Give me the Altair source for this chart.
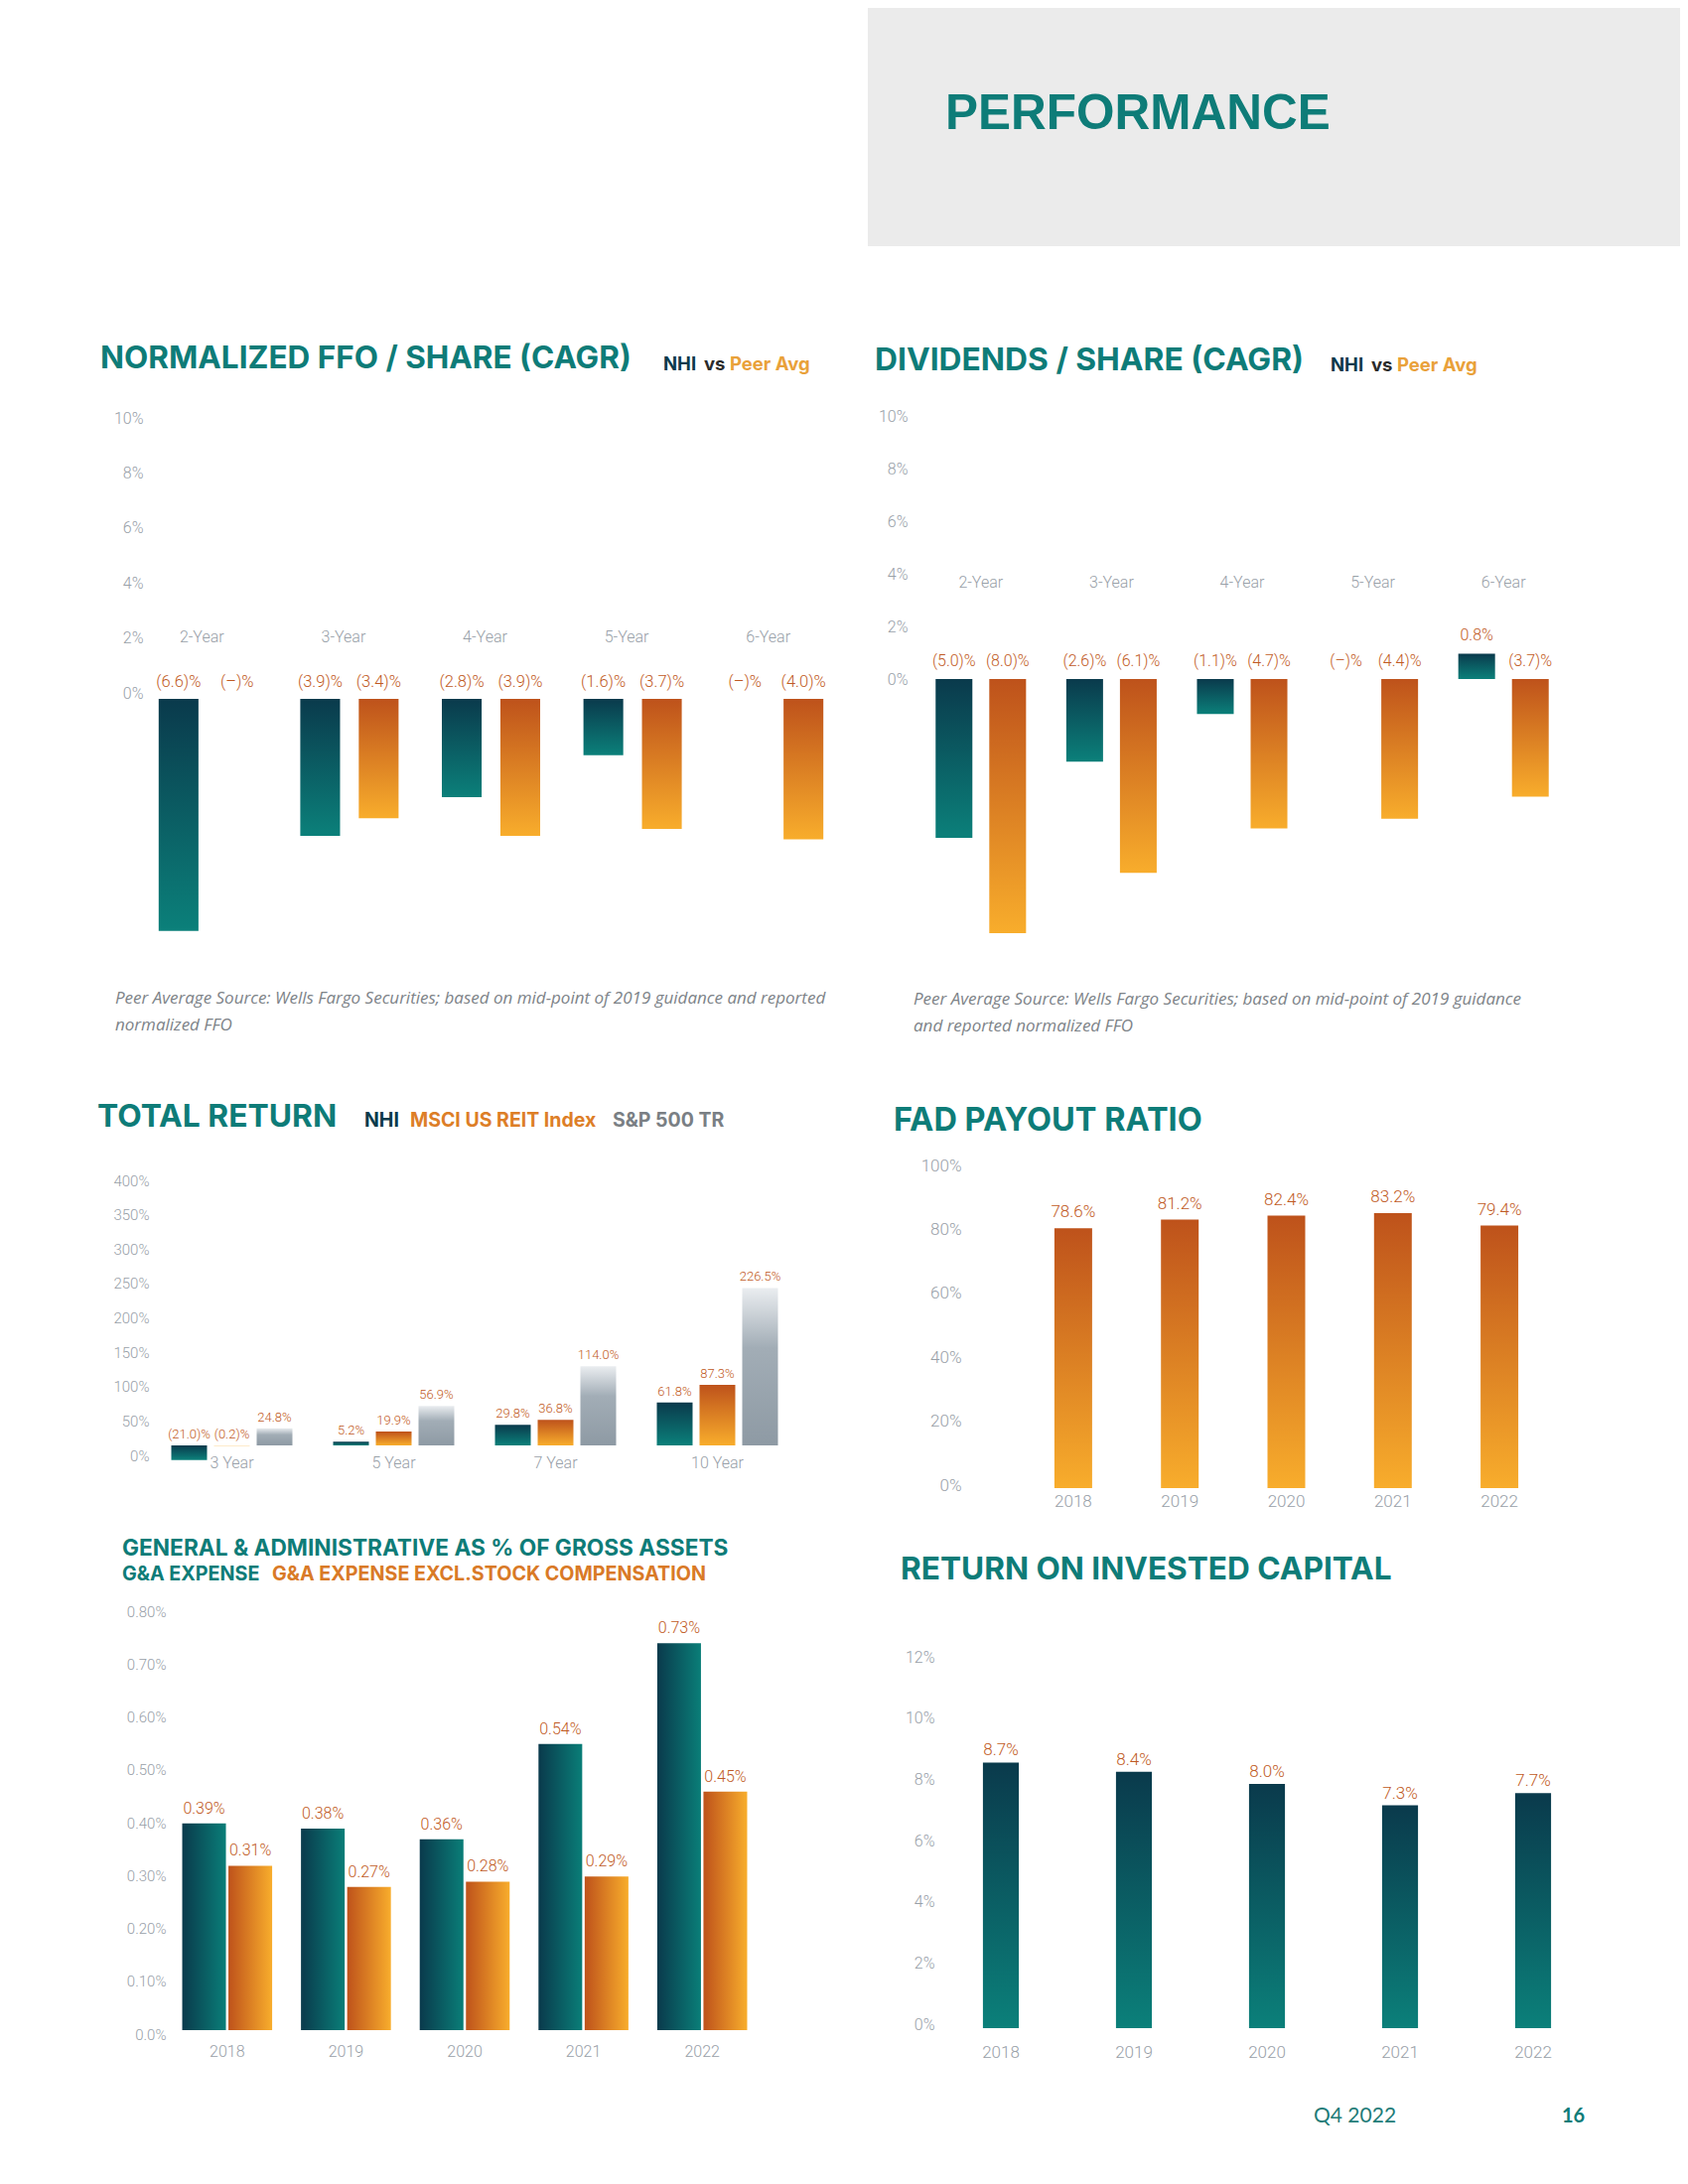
import altair as alt
import pandas as pd

# ---------------- data ----------------
ffo_periods = ["2-Year", "3-Year", "4-Year", "5-Year", "6-Year"]
ffo_nhi = [-6.6, -3.9, -2.8, -1.6, 0.0]
ffo_peer = [0.0, -3.4, -3.9, -3.7, -4.0]

div_periods = ["2-Year", "3-Year", "4-Year", "5-Year", "6-Year"]
div_nhi = [-5.0, -2.6, -1.1, 0.0, 0.8]
div_peer = [-8.0, -6.1, -4.7, -4.4, -3.7]

cagr_ticks = [0, 2, 4, 6, 8, 10]

tr_periods = ["3 Year", "5 Year", "7 Year", "10 Year"]
tr_nhi = [-21.0, 5.2, 29.8, 61.8]
tr_msci = [-0.2, 19.9, 36.8, 87.3]
tr_sp = [24.8, 56.9, 114.0, 226.5]
tr_ticks = [0, 50, 100, 150, 200, 250, 300, 350, 400]

years = ["2018", "2019", "2020", "2021", "2022"]
fad = [78.6, 81.2, 82.4, 83.2, 79.4]
fad_ticks = [0, 20, 40, 60, 80, 100]

ga = [0.39, 0.38, 0.36, 0.54, 0.73]
ga_excl = [0.31, 0.27, 0.28, 0.29, 0.45]
ga_ticks = [0, 0.1, 0.2, 0.3, 0.4, 0.5, 0.6, 0.7, 0.8]

roic = [8.7, 8.4, 8.0, 7.3, 7.7]
roic_ticks = [0, 2, 4, 6, 8, 10, 12]

# ---------------- style ----------------
W, H = 1684, 2175
def px(x): return x - 8
def py(y): return y - 8

TITLE_C = "#0E7C78"
NAVY = "#0A3A4C"
TEALB = "#0B807A"
RUST = "#BE521B"
GOLD = "#F8AD2C"
AXIS_C = "#98A0A8"
LAB_C = "#BF5A24"
TFONT = "Inter"
LFONT = "Roboto"
LW = 300

def vgrad(stops):
    return alt.Gradient(gradient="linear", x1=0, x2=0, y1=0, y2=1,
                        stops=[alt.GradientStop(offset=o, color=c) for o, c in stops])

def hgrad(stops):
    return alt.Gradient(gradient="linear", x1=0, x2=1, y1=0, y2=0,
                        stops=[alt.GradientStop(offset=o, color=c) for o, c in stops])

G_NHI = vgrad([(0, NAVY), (1, TEALB)])
G_PEER = vgrad([(0, RUST), (1, GOLD)])
G_SP = vgrad([(0, "#EAEDF0"), (0.38, "#A2ADB6"), (1, "#8E9AA4")])
H_NHI = hgrad([(0, NAVY), (1, "#0A7E78")])
H_PEER = hgrad([(0, RUST), (1, GOLD)])


def fmt(v, dec=1):
    if v == 0:
        return "(–)%"
    if v < 0:
        return f"({abs(v):.{dec}f})%"
    return f"{v:.{dec}f}%"


def long_df(cats, series, dec=1):
    rows = []
    for name, vals in series:
        for c, v in zip(cats, vals):
            rows.append({"cat": c, "s": name, "v": v, "ly": max(v, 0), "lab": fmt(v, dec)})
    return pd.DataFrame(rows)


def cat_axis(y_center, size=16, shift=0):
    return alt.Axis(orient="top", offset=-py(y_center), labelBaseline="middle",
                    labelPadding=0, labelAngle=0, labelFontSize=size, labelColor=AXIS_C,
                    labelFont=LFONT, labelFontWeight=LW, labelOffset=shift, title=None,
                    domain=False, ticks=False, tickSize=0, grid=False, labelOverlap=False)


def val_axis(right_x, values, expr, size=16):
    return alt.Axis(orient="left", offset=-px(right_x), values=values, labelExpr=expr,
                    labelBaseline="middle", labelAlign="right", labelPadding=0,
                    labelFontSize=size, labelColor=AXIS_C, labelFont=LFONT,
                    labelFontWeight=LW, title=None, domain=False, ticks=False, tickSize=0,
                    grid=False, labelFlush=False, labelOverlap=False)


def grouped(df, cats, order, grads, x_range, p_in, p_out, y_dom, y_rng, cat_y,
            lab_dy, lab_size, cat_size=16, cat_shift=0):
    xs = alt.Scale(type="band", domain=cats, range=x_range, paddingInner=0, paddingOuter=0)
    xo = alt.Scale(type="band", domain=order, paddingInner=p_in, paddingOuter=p_out)
    ys = alt.Scale(domain=y_dom, range=y_rng, nice=False, zero=False)
    layers = []
    for i, (name, g) in enumerate(zip(order, grads)):
        layers.append(
            alt.Chart(df).transform_filter(
                (alt.datum.s == name) & (alt.datum.v != 0)
            ).mark_bar(color=g).encode(
                x=alt.X("cat:N", scale=xs,
                        axis=cat_axis(cat_y, cat_size, cat_shift) if i == 0 else None),
                xOffset=alt.XOffset("s:N", scale=xo),
                y=alt.Y("v:Q", scale=ys, axis=None),
                y2=alt.datum(0),
            )
        )
    layers.append(
        alt.Chart(df).mark_text(baseline="middle", dy=lab_dy, fontSize=lab_size,
                                color=LAB_C, font=LFONT, fontWeight=LW).encode(
            x=alt.X("cat:N", scale=xs, axis=None),
            xOffset=alt.XOffset("s:N", scale=xo),
            y=alt.Y("ly:Q", scale=ys, axis=None),
            text="lab:N",
        )
    )
    return layers


def single(cats, vals, grad, x_range, p_in, p_out, y_dom, y_rng, cat_y, lab_dy,
           lab_size, y_axis=None):
    df = pd.DataFrame({"cat": cats, "v": vals, "lab": [fmt(v) for v in vals]})
    xs = alt.Scale(type="band", domain=cats, range=x_range, paddingInner=p_in, paddingOuter=p_out)
    ys = alt.Scale(domain=y_dom, range=y_rng, nice=False, zero=False)
    bars = alt.Chart(df).mark_bar(color=grad).encode(
        x=alt.X("cat:N", scale=xs, axis=cat_axis(cat_y, 17)),
        y=alt.Y("v:Q", scale=ys, axis=y_axis),
        y2=alt.datum(0),
    )
    labs = alt.Chart(df).mark_text(baseline="middle", dy=lab_dy, fontSize=lab_size,
                                   color=LAB_C, font=LFONT, fontWeight=LW).encode(
        x=alt.X("cat:N", scale=xs, axis=None),
        y=alt.Y("v:Q", scale=ys, axis=None),
        text="lab:N",
    )
    return [bars, labs]


def side_axis(ticks, dom, rng, right_x, expr, size=16):
    # axis-only layer: invisible points carrying the printed tick labels
    return alt.Chart(pd.DataFrame({"t": ticks})).mark_point(opacity=0).encode(
        y=alt.Y("t:Q", scale=alt.Scale(domain=dom, range=rng, nice=False, zero=False),
                axis=val_axis(right_x, ticks, expr, size))
    )


def txt(s, x, y, size, color, weight="normal", font=TFONT, style="normal", align="left"):
    return alt.Chart(pd.DataFrame({"t": [s]})).mark_text(
        align=align, baseline="middle", fontSize=size, font=font, fontWeight=weight,
        fontStyle=style, color=color,
    ).encode(x=alt.value(px(x)), y=alt.value(py(y)), text="t:N")


PCT = "datum.value + '%'"

# ---------------- charts ----------------
ffo_df = long_df(ffo_periods, [("NHI", ffo_nhi), ("Peer", ffo_peer)])
ffo = grouped(ffo_df, ffo_periods, ["NHI", "Peer"], [G_NHI, G_PEER],
              [px(138), px(851)], 0.32, 0.37,
              [-7, 1], [py(704) + 7 * 35.4, py(704) - 35.4], 641, -17, 16.5, cat_shift=-6)
ffo_ax = side_axis(cagr_ticks, [0, 10], [py(698), py(421)], 144, PCT)

div_df = long_df(div_periods, [("NHI", div_nhi), ("Peer", div_peer)])
div = grouped(div_df, div_periods, ["NHI", "Peer"], [G_NHI, G_PEER],
              [px(922), px(1580)], 0.315, 0.375,
              [-9, 1], [py(684) + 9 * 32, py(684) - 32], 586, -18, 16)
div_ax = side_axis(cagr_ticks, [0, 10], [py(684), py(419)], 914, PCT)

tr_df = long_df(tr_periods, [("NHI", tr_nhi), ("MSCI", tr_msci), ("SP", tr_sp)])
tr = grouped(tr_df, tr_periods, ["NHI", "MSCI", "SP"], [G_NHI, G_PEER, G_SP],
             [px(152), px(804)], 0.163, 0.477,
             [-25, 400], [py(1456) + 25 * 0.70, py(1456) - 400 * 0.70], 1473, -11, 13)
tr_ax = side_axis(tr_ticks, [0, 400], [py(1466), py(1189)], 150, PCT, 15)

fadc = single(years, fad, G_PEER, [px(975), px(1616)], 0.646, 0.81,
              [0, 100], [py(1499), py(1166)], 1512, -16, 17)
fad_ax = side_axis(fad_ticks, [0, 100], [py(1496), py(1174)], 968, PCT, 17)

ga_df = long_df(years, [("GA", ga), ("EX", ga_excl)], dec=2)
gac = grouped(ga_df, years, ["GA", "EX"], [H_NHI, H_PEER],
              [px(169), px(767)], 0.054, 0.312,
              [0, 0.8], [py(2045), py(2045) - 0.8 * 534], 2066, -15, 16)
ga_ax = side_axis(ga_ticks, [0, 0.8], [py(2049), py(1623)], 167,
                  "datum.value == 0 ? '0.0%' : format(datum.value, '.2f') + '%'", 15)

roicc = single(years, roic, G_NHI, [px(941), px(1611)], 0.73, 0.365,
               [0, 12], [py(2043), py(2043) - 12 * 30.75], 2067, -12, 17)
roic_ax = side_axis(roic_ticks, [0, 12], [py(2039), py(1669)], 941, PCT, 16)

# ---------------- page furniture ----------------
header = alt.Chart(pd.DataFrame({"a": [0]})).mark_rect(color="#EBEBEB").encode(
    x=alt.value(px(874)), x2=alt.value(W), y=alt.value(0), y2=alt.value(py(248)))

NOTE_C = "#7D8388"
ann = [
    header,
    txt("PERFORMANCE", 952, 115, 49.5, TITLE_C, "bold", "Liberation Sans"),
    txt("NORMALIZED FFO / SHARE (CAGR)", 101, 362, 31.5, TITLE_C, "bold"),
    txt("NHI", 668, 367, 18.5, NAVY, "bold"),
    txt("vs", 709, 367, 18.5, "#2B2B2B", "bold"),
    txt("Peer Avg", 735, 367, 18.5, "#E9A13A", "bold"),
    txt("DIVIDENDS / SHARE (CAGR)", 881, 363, 31.8, TITLE_C, "bold"),
    txt("NHI", 1340, 368, 18.5, NAVY, "bold"),
    txt("vs", 1381, 368, 18.5, "#2B2B2B", "bold"),
    txt("Peer Avg", 1407, 368, 18.5, "#E9A13A", "bold"),
    txt("Peer Average Source: Wells Fargo Securities; based on mid-point of 2019 guidance and reported",
        116, 1006, 17, NOTE_C, "normal", "Open Sans", "italic"),
    txt("normalized FFO", 116, 1033, 17, NOTE_C, "normal", "Open Sans", "italic"),
    txt("Peer Average Source: Wells Fargo Securities; based on mid-point of 2019 guidance",
        920, 1007, 17, NOTE_C, "normal", "Open Sans", "italic"),
    txt("and reported normalized FFO", 920, 1034, 17, NOTE_C, "normal", "Open Sans", "italic"),
    txt("TOTAL RETURN", 98, 1125, 31.8, TITLE_C, "bold"),
    txt("NHI", 367, 1129, 19.5, NAVY, "bold"),
    txt("MSCI US REIT Index", 413, 1129, 19.5, "#DD7E27", "bold"),
    txt("S&P 500 TR", 617, 1129, 19.5, "#7A7F84", "bold"),
    txt("FAD PAYOUT RATIO", 900, 1129, 32.5, TITLE_C, "bold"),
    txt("GENERAL & ADMINISTRATIVE AS % OF GROSS ASSETS", 123, 1560, 22.7, TITLE_C, "bold"),
    txt("G&A EXPENSE", 123, 1586, 19.7, TITLE_C, "bold"),
    txt("G&A EXPENSE EXCL.STOCK COMPENSATION", 274, 1586, 19.7, "#D97A27", "bold"),
    txt("RETURN ON INVESTED CAPITAL", 907, 1582, 31.6, TITLE_C, "bold"),
    txt("Q4 2022", 1323, 2132, 21, "#1F7C78", "normal", "Lato"),
    txt("16", 1573, 2132, 20, TITLE_C, "bold", "Lato"),
]

all_layers = (ann + ffo + [ffo_ax] + div + [div_ax] + tr + [tr_ax] + fadc + [fad_ax]
              + gac + [ga_ax] + roicc + [roic_ax])

chart = alt.layer(*all_layers).resolve_scale(
    x="independent", y="independent", xOffset="independent"
).resolve_axis(
    x="independent", y="independent"
).properties(
    width=W, height=H, padding=0, autosize=alt.AutoSizeParams(type="none")
).configure_view(stroke=None).configure_axis(grid=False)

chart.save("out.html", embed_options={"renderer": "svg", "actions": False})
